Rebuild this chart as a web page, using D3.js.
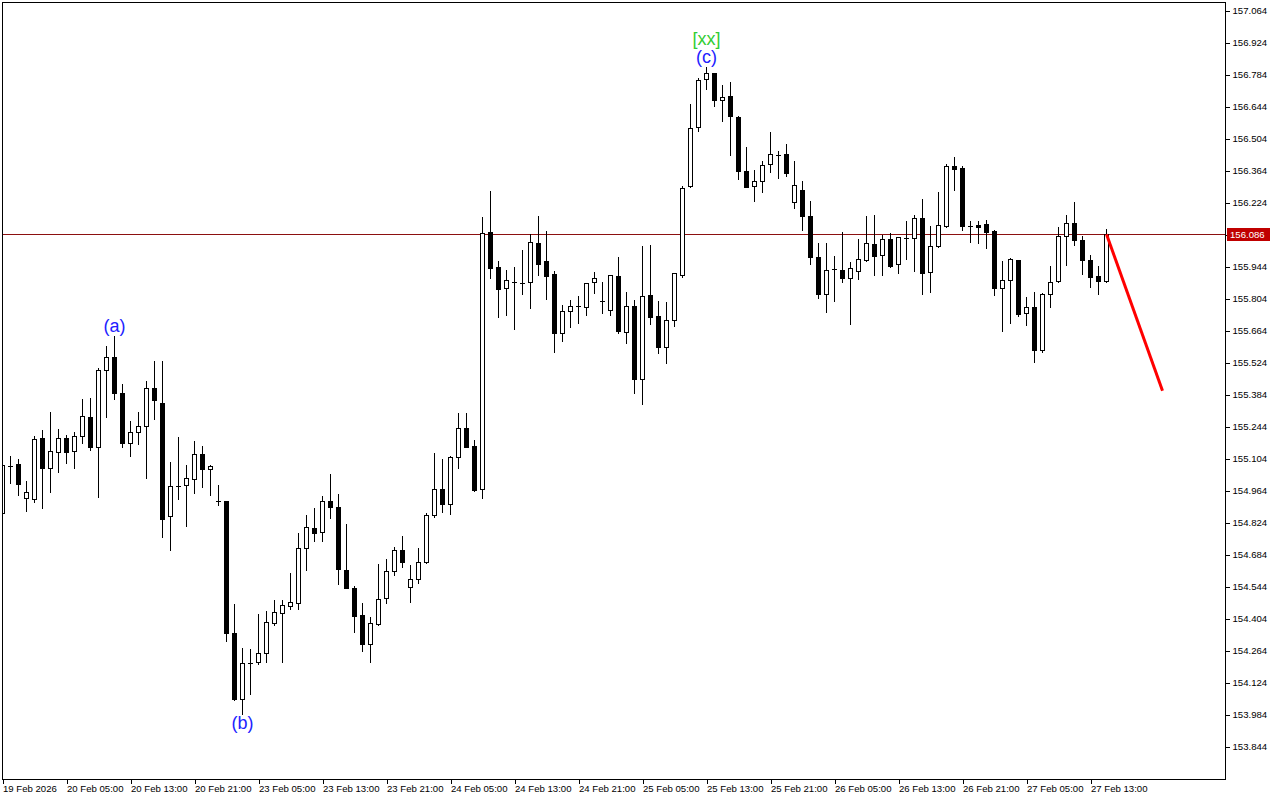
<!DOCTYPE html>
<html><head><meta charset="utf-8">
<script src="https://cdn.jsdelivr.net/npm/d3@7"></script>
<style>body{margin:0;background:#fff}svg{display:block}</style>
</head><body><svg id="c" width="1280" height="800"></svg>
<script>
// Hourly candles, 19 Feb 2026 21:00 .. 27 Feb 2026 15:00
const xTickLabels = ["19 Feb 2026","20 Feb 05:00","20 Feb 13:00","20 Feb 21:00","23 Feb 05:00","23 Feb 13:00","23 Feb 21:00","24 Feb 05:00","24 Feb 13:00","24 Feb 21:00","25 Feb 05:00","25 Feb 13:00","25 Feb 21:00","26 Feb 05:00","26 Feb 13:00","26 Feb 21:00","27 Feb 05:00","27 Feb 13:00"];
const yTickValues = [157.064,156.924,156.784,156.644,156.504,156.364,156.224,156.084,155.944,155.804,155.664,155.524,155.384,155.244,155.104,154.964,154.824,154.684,154.544,154.404,154.264,154.124,153.984,153.844];

const open = [154.866,155.074,155.081,154.932,154.926,155.194,155.065,155.132,155.194,155.136,
155.202,155.285,155.154,155.491,155.548,155.390,155.171,155.220,155.249,155.412,
155.348,154.852,154.986,154.988,155.014,155.125,155.061,154.920,154.919,154.343,
154.051,154.210,154.213,154.253,154.386,154.430,154.458,154.474,154.712,154.801,
154.782,154.918,154.891,154.617,154.538,154.418,154.295,154.382,154.493,154.611,
154.705,154.541,154.578,154.652,154.858,154.970,154.905,155.110,155.237,155.158,
154.970,156.095,155.941,155.849,155.878,155.874,155.876,156.048,155.969,155.911,
155.653,155.749,155.773,155.769,155.876,155.795,155.753,155.902,155.660,155.772,
155.454,155.819,155.728,155.592,155.710,155.909,156.296,156.554,156.764,156.790,
156.675,156.689,156.599,156.361,156.298,156.318,156.392,156.434,156.436,156.226,
156.278,156.166,155.987,155.823,155.934,155.930,155.895,155.924,155.973,156.042,
155.994,156.064,155.955,156.070,156.068,156.156,155.919,156.033,156.122,156.385,
156.376,156.121,156.125,156.131,156.100,155.849,155.884,155.973,155.740,155.768,
155.581,155.823,155.880,156.077,156.134,156.060,155.972,155.902,155.883];

const high = [155.098,155.116,155.101,155.006,155.203,155.230,155.310,155.234,155.206,155.221,
155.365,155.370,155.502,155.597,155.641,155.431,155.269,155.308,155.444,155.531,
155.531,155.090,155.199,155.076,155.181,155.160,155.076,154.989,154.921,154.468,
154.276,154.271,154.426,154.438,154.486,154.486,154.604,154.780,154.858,154.888,
154.941,155.037,154.950,154.818,154.547,154.471,154.411,154.643,154.665,154.719,
154.765,154.639,154.713,154.866,155.129,155.101,155.116,155.304,155.304,155.185,
156.161,156.275,155.969,155.930,155.941,156.017,156.087,156.166,156.100,155.925,
155.777,155.798,155.815,155.871,155.921,155.877,155.908,155.987,155.833,155.798,
156.035,156.039,155.794,155.788,155.915,156.298,156.656,156.768,156.819,156.792,
156.739,156.751,156.603,156.468,156.367,156.406,156.533,156.451,156.481,156.406,
156.318,156.231,156.046,156.046,155.991,156.096,155.965,156.065,156.165,156.170,
156.083,156.091,156.073,156.144,156.170,156.240,156.121,156.271,156.393,156.425,
156.385,156.144,156.144,156.148,156.105,155.969,155.982,155.975,155.812,155.833,
155.828,155.947,156.118,156.170,156.227,156.080,155.995,155.946,156.108];

const low = [154.858,154.998,154.947,154.877,154.916,154.890,154.958,155.046,155.086,155.063,
155.173,155.141,154.936,155.288,155.364,155.154,155.117,155.170,155.021,155.279,
154.763,154.706,154.929,154.811,154.955,154.980,154.945,154.900,154.308,154.048,
153.987,154.075,154.206,154.216,154.378,154.216,154.448,154.448,154.618,154.744,
154.744,154.846,154.557,154.538,154.347,154.264,154.213,154.378,154.474,154.596,
154.630,154.478,154.560,154.648,154.849,154.871,154.862,155.065,155.155,154.964,
154.934,155.896,155.725,155.733,155.673,155.826,155.765,155.908,155.804,155.572,
155.620,155.681,155.699,155.734,155.830,155.743,155.733,155.653,155.612,155.390,
155.343,155.692,155.565,155.521,155.685,155.900,156.294,156.536,156.720,156.648,
156.583,156.434,156.329,156.292,156.233,156.272,156.360,156.333,156.342,156.202,
156.106,155.954,155.806,155.747,155.795,155.878,155.692,155.889,155.971,155.909,
155.909,155.944,155.915,155.976,155.926,155.826,155.835,156.031,156.116,156.280,
156.105,156.053,156.049,156.027,155.822,155.663,155.699,155.730,155.690,155.528,
155.572,155.769,155.878,155.953,156.040,155.913,155.856,155.826,155.878];

const close = [155.076,155.074,154.995,154.957,155.190,155.063,155.136,155.194,155.135,155.202,
155.290,155.157,155.491,155.548,155.390,155.171,155.220,155.245,155.412,155.362,
154.842,154.985,154.986,155.020,155.125,155.059,155.071,154.920,154.340,154.051,
154.210,154.210,154.253,154.390,154.432,154.464,154.476,154.713,154.804,154.780,
154.918,154.891,154.620,154.540,154.417,154.295,154.384,154.489,154.611,154.705,
154.650,154.578,154.652,154.858,154.970,154.905,155.111,155.237,155.157,154.967,
156.090,155.940,155.848,155.884,155.878,155.874,156.051,155.955,155.905,155.655,
155.749,155.771,155.773,155.871,155.893,155.795,155.906,155.664,155.772,155.454,
155.815,155.725,155.592,155.710,155.915,156.287,156.550,156.760,156.790,156.675,
156.685,156.605,156.364,156.294,156.318,156.388,156.436,156.434,156.355,156.300,
156.165,155.985,155.823,155.930,155.934,155.893,155.938,155.976,156.046,155.992,
156.064,155.948,156.073,156.070,156.156,155.918,156.033,156.125,156.385,156.373,
156.122,156.121,156.118,156.097,155.852,155.884,155.976,155.738,155.767,155.581,
155.823,155.876,156.077,156.134,156.062,155.972,155.900,155.883,156.086];

const currentPrice = 156.086;
const forecastIdx = [138, 145];
const forecastPrice = [156.086, 155.401];
const waveText = ["(a)", "(b)", "[xx]", "(c)"];
const waveIdx = [14, 30, 88, 88];

const svg = d3.select("#c");
const x = d3.scaleLinear().domain([0, 138]).range([2.5, 1106.5]);
const y = d3.scaleLinear().domain([153.844, 157.064]).range([746.7, 10.7]);
const R = v => Math.round(v);

const plotL = 2, plotR = 1225, plotT = 2, plotB = 779;

const data = open.map((o, i) => ({i, o, h: high[i], l: low[i], c: close[i]}));

svg.append("defs").append("clipPath").attr("id", "clipPlot")
  .append("rect").attr("x", plotL).attr("y", plotT).attr("width", plotR - plotL).attr("height", plotB - plotT);

const plot = svg.append("g").attr("clip-path", "url(#clipPlot)").attr("shape-rendering", "crispEdges");

// current price line
plot.append("line")
  .attr("x1", plotL).attr("x2", plotR)
  .attr("y1", R(y(currentPrice)) + 0.5).attr("y2", R(y(currentPrice)) + 0.5)
  .attr("stroke", "#8c1010").attr("stroke-width", 1);

const g = plot.selectAll("g.candle").data(data).enter().append("g").attr("class", "candle");
g.append("line")
  .attr("x1", d => x(d.i)).attr("x2", d => x(d.i))
  .attr("y1", d => R(y(d.h))).attr("y2", d => R(y(d.l)) + 1)
  .attr("stroke", "#000").attr("stroke-width", 1);
g.each(function(d) {
  const top = R(y(Math.max(d.o, d.c)));
  const bot = R(y(Math.min(d.o, d.c)));
  const cx = x(d.i);
  const sel = d3.select(this);
  if (bot - top < 1) {
    sel.append("line").attr("x1", cx - 2.5).attr("x2", cx + 2.5)
      .attr("y1", top + 0.5).attr("y2", top + 0.5)
      .attr("stroke", "#000").attr("stroke-width", 1);
  } else {
    sel.append("rect").attr("x", cx - 2).attr("width", 4)
      .attr("y", top + 0.5).attr("height", bot - top)
      .attr("fill", d.c < d.o ? "#000" : "#fff")
      .attr("stroke", "#000").attr("stroke-width", 1);
  }
});

// forecast line
svg.append("line")
  .attr("x1", x(forecastIdx[0])).attr("y1", y(forecastPrice[0]))
  .attr("x2", x(forecastIdx[1])).attr("y2", y(forecastPrice[1]))
  .attr("stroke", "#ff0000").attr("stroke-width", 3);

// wave labels
const font = "'Liberation Sans', Arial, sans-serif";
waveText.forEach((t, k) => {
  const i = waveIdx[k];
  let yy, col;
  if (t === "(b)") { yy = y(low[i]) + 15; col = "#2222ff"; }
  else if (t === "[xx]") { yy = y(high[i]) - 22; col = "#32cd32"; }
  else { yy = y(high[i]) - 4; col = "#2222ff"; }
  svg.append("text").attr("x", x(i)).attr("y", yy)
    .attr("text-anchor", "middle").attr("font-family", font).attr("font-size", 18)
    .attr("fill", col).text(t);
});

// frame
const frame = svg.append("g").attr("shape-rendering", "crispEdges");
frame.append("line").attr("x1", plotR + 0.5).attr("x2", plotR + 0.5).attr("y1", plotT).attr("y2", plotB + 1).attr("stroke", "#000");
frame.append("line").attr("x1", plotL).attr("x2", plotR + 1).attr("y1", plotB + 0.5).attr("y2", plotB + 0.5).attr("stroke", "#000");
frame.append("line").attr("x1", plotL).attr("x2", plotR + 1).attr("y1", plotT + 0.5).attr("y2", plotT + 0.5).attr("stroke", "#000");
frame.append("line").attr("x1", plotL + 0.5).attr("x2", plotL + 0.5).attr("y1", plotT).attr("y2", plotB + 1).attr("stroke", "#000");

// y axis
const yAxis = d3.axisRight(y).tickValues(yTickValues).tickFormat(d3.format(".3f")).tickSize(4).tickPadding(3);
const ya = svg.append("g").attr("transform", `translate(${plotR + 0.5},0)`).call(yAxis);
ya.select(".domain").remove();
ya.selectAll("text").attr("font-family", font).attr("font-size", 9.6).attr("fill", "#000");
ya.selectAll("line").attr("stroke", "#000").attr("shape-rendering", "crispEdges");

// x axis
const xTickIdx = xTickLabels.map((_, k) => k * 8);
const xAxis = d3.axisBottom(x).tickValues(xTickIdx).tickFormat((d, k) => xTickLabels[k]).tickSize(4).tickPadding(2);
const xa = svg.append("g").attr("transform", `translate(0,${plotB + 0.5})`).call(xAxis);
xa.select(".domain").remove();
xa.selectAll("text").attr("font-family", font).attr("font-size", 9.6).attr("fill", "#000").attr("text-anchor", "start");
xa.selectAll("line").attr("stroke", "#000").attr("shape-rendering", "crispEdges");

// current price tag
const py = R(y(currentPrice));
svg.append("rect").attr("x", plotR + 2).attr("y", py - 6).attr("width", 43).attr("height", 13).attr("fill", "#c00000");
svg.append("text").attr("x", plotR + 5).attr("y", py + 4).attr("font-family", font).attr("font-size", 9.6)
  .attr("fill", "#fff").text(d3.format(".3f")(currentPrice));
</script></body></html>
